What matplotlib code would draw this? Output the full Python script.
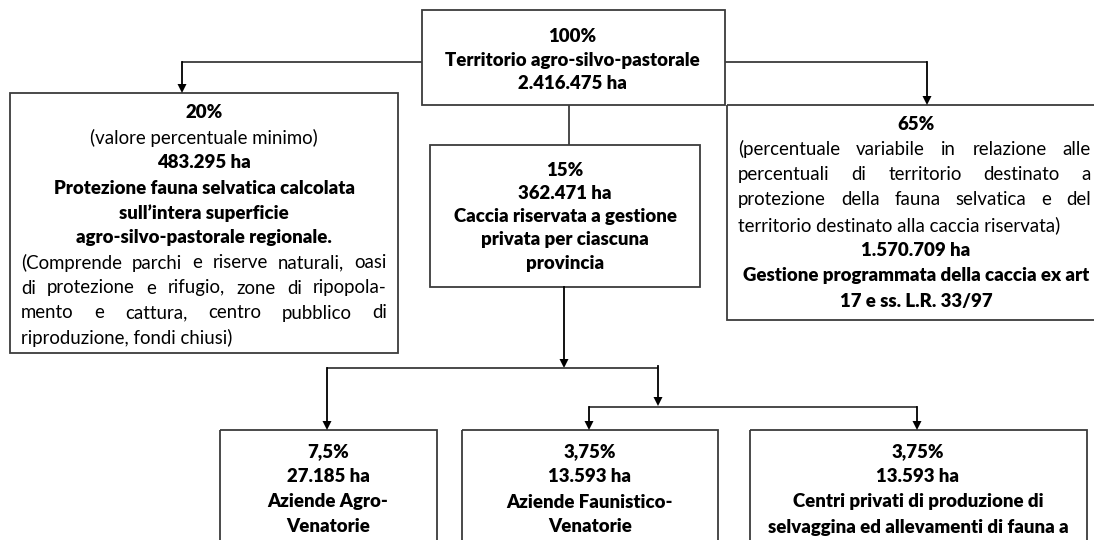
import matplotlib
matplotlib.use("Agg")
import matplotlib.pyplot as plt
from matplotlib.patches import Rectangle, Polygon

# box contents: (text, kind)  True = bold centred, False = regular centred,
# "J" = regular justified, "L" = regular left aligned
top_lines = [("100%", True), ("Territorio agro-silvo-pastorale", True), ("2.416.475 ha", True)]
left_lines = [("20%", True), ("(valore percentuale minimo)", False), ("483.295 ha", True),
              ("Protezione fauna selvatica calcolata", True), ("sull\u2019intera superficie", True),
              ("agro-silvo-pastorale regionale.", True),
              ("(Comprende parchi e riserve naturali, oasi", "J"),
              ("di protezione e rifugio, zone di ripopola-", "J"),
              ("mento e cattura, centro pubblico di", "J"),
              ("riproduzione, fondi chiusi)", "L")]
mid_lines = [("15%", True), ("362.471 ha", True), ("Caccia riservata a gestione", True),
             ("privata per ciascuna", True), ("provincia", True)]
right_lines = [("65%", True), ("(percentuale variabile in relazione alle", "J"),
               ("percentuali di territorio destinato a", "J"),
               ("protezione della fauna selvatica e del", "J"),
               ("territorio destinato alla caccia riservata)", "L"),
               ("1.570.709 ha", True), ("Gestione programmata della caccia ex art", True),
               ("17 e ss. L.R. 33/97", True)]
b1_lines = [("7,5%", True), ("27.185 ha", True), ("Aziende Agro-", True), ("Venatorie", True)]
b2_lines = [("3,75%", True), ("13.593 ha", True), ("Aziende Faunistico-", True), ("Venatorie", True)]
b3_lines = [("3,75%", True), ("13.593 ha", True), ("Centri privati di produzione di", True),
            ("selvaggina ed allevamenti di fauna a", True)]

W, H = 1094, 540
fig = plt.figure(figsize=(W / 100, H / 100), dpi=100)
ax = fig.add_axes([0, 0, 1, 1])
ax.set_xlim(0, W)
ax.set_ylim(H, 0)
ax.axis("off")
fig.canvas.draw()
renderer = fig.canvas.get_renderer()

FONT = "Lato"
FS = 13.4
BOLD = 800
EDGE = "#3c3c3c"


def box(x0, y0, x1, y1):
    ax.add_patch(Rectangle((x0, y0), x1 - x0, y1 - y0, fill=False, ec=EDGE, lw=1.3, clip_on=False))


def line(xs, ys):
    ax.plot(xs, ys, color=EDGE, lw=1.3, solid_capstyle="butt")


def arrow(x, y0, y1):
    ax.plot([x, x], [y0, y1 - 6], color="black", lw=1.3)
    ax.add_patch(Polygon([(x - 4.5, y1 - 9), (x + 4.5, y1 - 9), (x, y1)], closed=True,
                         color="black", lw=0))


def write(lines, cx, xl, xr, y0, dy):
    for i, (txt, kind) in enumerate(lines):
        y = y0 + i * dy
        if kind == "J":
            words = txt.split(" ")
            objs = [ax.text(0, y, w, fontsize=FS, family=FONT, va="center", ha="left") for w in words]
            widths = [o.get_window_extent(renderer).width for o in objs]
            gap = (xr - xl - sum(widths)) / (len(words) - 1)
            x = xl
            for o, w in zip(objs, widths):
                o.set_x(x)
                x += w + gap
        elif kind == "L":
            ax.text(xl, y, txt, fontsize=FS, family=FONT, va="center", ha="left")
        else:
            ax.text(cx, y, txt, fontsize=FS, family=FONT, va="center", ha="center",
                    fontweight=BOLD if kind else "normal")


# boxes
box(422, 10, 725, 105)
box(10, 93, 398, 353)
box(430, 145, 700, 287)
box(727, 105, 1113, 320)
box(220, 430, 437, 560)
box(462, 430, 718, 560)
box(750, 430, 1087, 560)

# connectors
line([422, 182], [62, 62])
arrow(182, 62, 93)
line([725, 927], [62, 62])
arrow(927, 62, 105)
line([569, 569], [105, 145])
arrow(564, 287, 368)
line([327, 658], [368, 368])
arrow(327, 368, 430)
arrow(658, 366, 406)
line([589, 917], [407, 407])
arrow(589, 407, 430)
arrow(917, 407, 430)

# text
write(top_lines, 572, 0, 0, 37, 23.3)
write(left_lines, 204, 21, 387, 113, 25)
write(mid_lines, 565, 0, 0, 170, 23.3)
write(right_lines, 916, 738, 1091, 124, 25.3)
write(b1_lines, 328, 0, 0, 452, 25)
write(b2_lines, 590, 0, 0, 452, 25)
write(b3_lines, 918, 0, 0, 452, 25)

fig.savefig("out.png", dpi=100)
